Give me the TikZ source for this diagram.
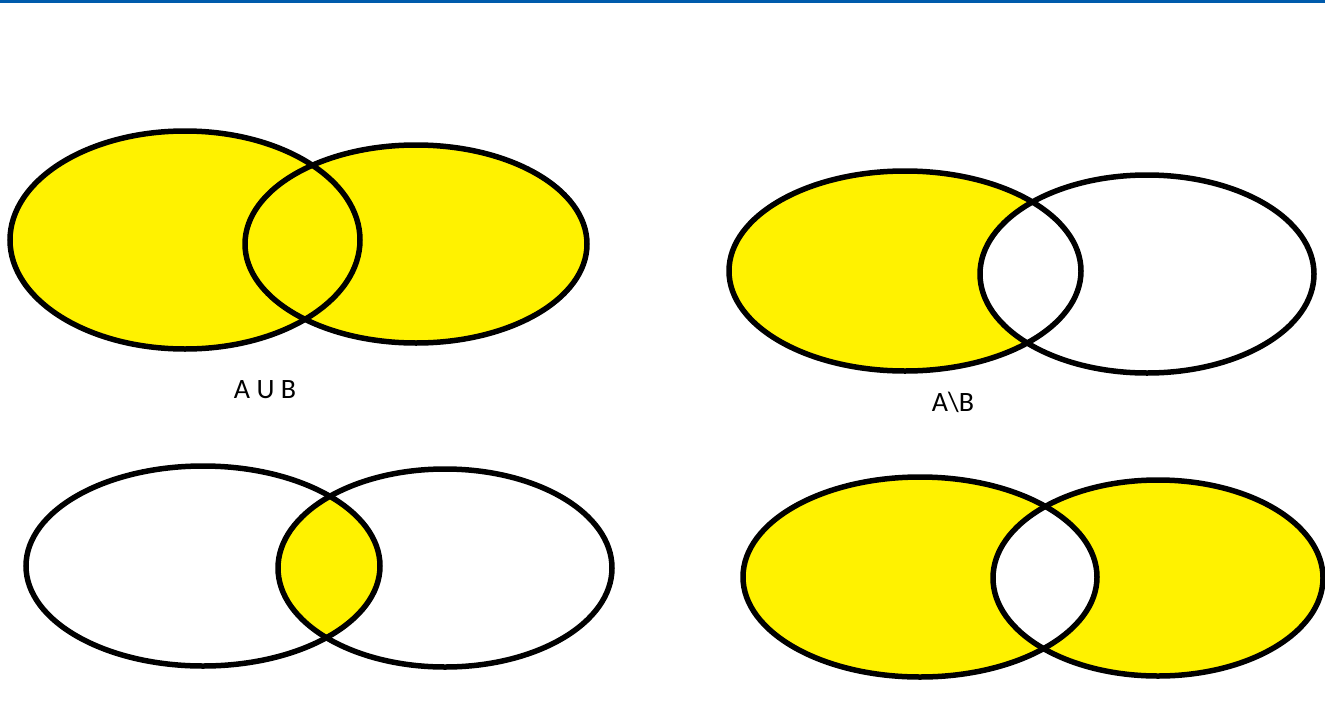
\documentclass[tikz,border=0pt]{standalone}
\usepackage{fontspec}
\setmainfont{Carlito}
\definecolor{setyellow}{RGB}{255,242,0}
\definecolor{rulecolor}{RGB}{0,91,172}
\begin{document}
\begin{tikzpicture}[x=1pt,y=-1pt,
  outline/.style={draw=black,line width=5.5pt},
  shade/.style={fill=setyellow},
  caption/.style={font=\fontsize{28}{32}\selectfont,inner sep=0pt}]
\useasboundingbox (0,0) rectangle (1325,707);
\fill[white] (0,0) rectangle (1325,707);
% top rule
\fill[rulecolor] (0,0) rectangle (1325,3);

% union
\fill[shade] (185,240) ellipse [x radius=175,y radius=109];
\fill[shade] (416,244) ellipse [x radius=171,y radius=99];
\draw[outline] (185,240) ellipse [x radius=175,y radius=109];
\draw[outline] (416,244) ellipse [x radius=171,y radius=99];
\node[caption] (union) at (265,390) {A U B};

% difference
\fill[shade] (905,271) ellipse [x radius=176,y radius=100];
\fill[white] (1147,274) ellipse [x radius=167,y radius=99];
\draw[outline] (905,271) ellipse [x radius=176,y radius=100];
\draw[outline] (1147,274) ellipse [x radius=167,y radius=99];
\node[caption] (diff) at (953,402) {A\textbackslash B};

% intersection
\begin{scope}
  \clip (203,566) ellipse [x radius=177,y radius=100];
  \fill[shade] (445,568) ellipse [x radius=167,y radius=99];
\end{scope}
\draw[outline] (203,566) ellipse [x radius=177,y radius=100];
\draw[outline] (445,568) ellipse [x radius=167,y radius=99];

% symmetric difference
\fill[shade,even odd rule] (920,577) ellipse [x radius=177,y radius=100]
  (1158,578) ellipse [x radius=165,y radius=98];
\draw[outline] (920,577) ellipse [x radius=177,y radius=100];
\draw[outline] (1158,578) ellipse [x radius=165,y radius=98];
\end{tikzpicture}
\end{document}
